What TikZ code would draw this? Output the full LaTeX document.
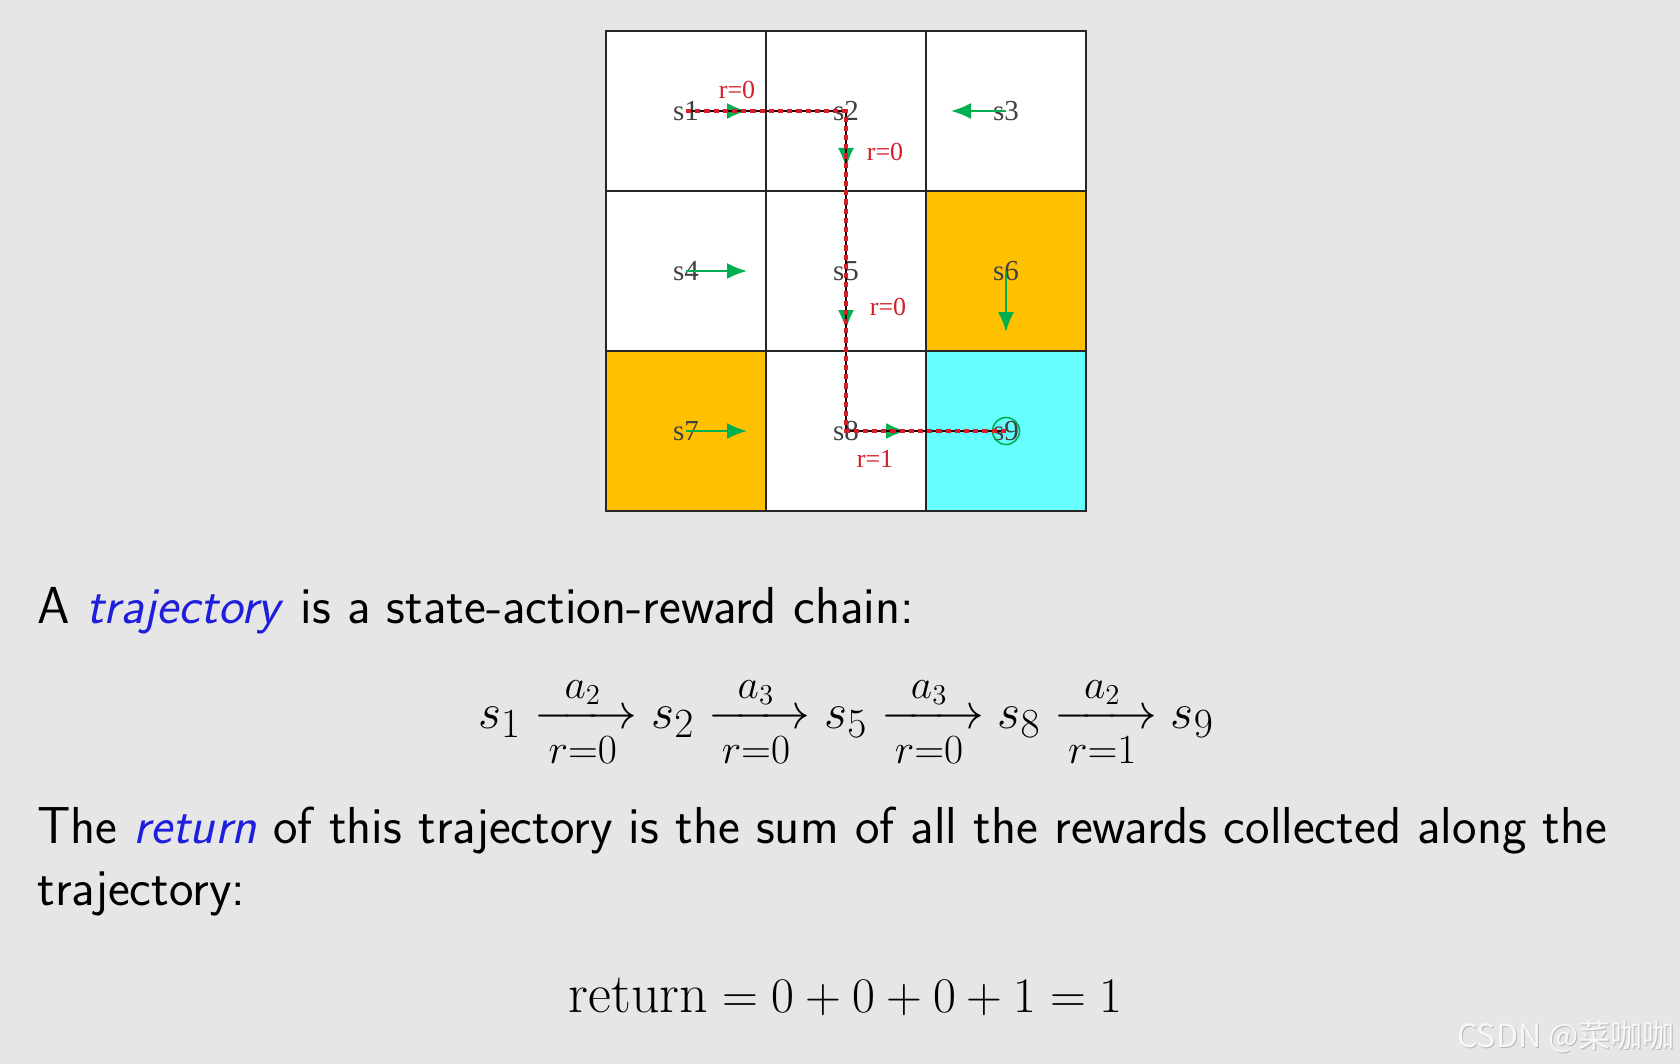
\documentclass[tikz,border=0pt]{standalone}
\usepackage{amsmath}
\usepackage{fontspec}
\newfontfamily\gridfont{Liberation Serif}
\newfontfamily\cjkfont{Noto Sans CJK SC}
\usetikzlibrary{arrows.meta}
\definecolor{bg}{HTML}{E6E6E6}
\definecolor{cellorange}{HTML}{FFC000}
\definecolor{cellcyan}{HTML}{66FFFF}
\definecolor{actgreen}{HTML}{00B050}
\definecolor{hlblue}{RGB}{30,30,220}
\definecolor{rewred}{RGB}{215,30,40}
\newcommand{\chainarrow}[2]{\xrightarrow[\hspace{0.5pt}#2\hspace{0.5pt}]{#1}}
\tikzset{
  statelbl/.style={inner sep=0pt, font=\gridfont\fontsize{14.5}{16}\selectfont, text=black!75},
  rewlbl/.style={inner sep=0pt, font=\gridfont\fontsize{13}{14}\selectfont, text=rewred},
  act/.style={draw=actgreen, line width=1.1pt, -{Latex[length=10pt,width=8pt]}},
  trajbase/.style={draw=black!85!red, line width=1.4pt},
  traj/.style={draw=rewred, line width=1.6pt, dash pattern=on 2.6pt off 2pt},
  gridline/.style={draw=black!85, line width=1pt},
  bodytext/.style={inner sep=0pt, anchor=base west, font=\sffamily\fontsize{26}{30}\selectfont},
  mathtext/.style={inner sep=0pt, anchor=base, font=\fontsize{28}{32}\selectfont},
}
\begin{document}
\begin{tikzpicture}[x=0.5pt,y=-0.5pt]
\fill[bg] (0,0) rectangle (1680,1064);
\useasboundingbox (0,0) rectangle (1680,1064);
% cells
\fill[white] (606,31) rectangle (1086,511);
\fill[cellorange] (926,191) rectangle (1086,351);
\fill[cellorange] (606,351) rectangle (766,511);
\fill[cellcyan] (926,351) rectangle (1086,511);
\draw[gridline] (766,31) -- (766,511);
\draw[gridline] (926,31) -- (926,511);
\draw[gridline] (606,191) -- (1086,191);
\draw[gridline] (606,351) -- (1086,351);
\draw[gridline] (606,31) rectangle (1086,511);
% states
\node[statelbl] (s1) at (686,111) {s1};
\node[statelbl] (s2) at (846,111) {s2};
\node[statelbl] (s3) at (1006,111) {s3};
\node[statelbl] (s4) at (686,271) {s4};
\node[statelbl] (s5) at (846,271) {s5};
\node[statelbl] (s6) at (1006,271) {s6};
\node[statelbl] (s7) at (686,431) {s7};
\node[statelbl] (s8) at (846,431) {s8};
\node[statelbl] (s9) at (1006,431) {s9};
\draw[actgreen, line width=0.8pt] (s9.center) circle[radius=13.5];
% action tips
\coordinate (a1) at (747,111);
\coordinate (a2) at (846,168);
\coordinate (a3) at (951,111);
\coordinate (a4) at (747,271);
\coordinate (a5) at (846,330);
\coordinate (a6) at (1006,332);
\coordinate (a7) at (747,431);
\coordinate (a8) at (906,431);
\draw[act] (s1.center) -- (a1);
\draw[act] (s2.center) -- (a2);
\draw[act] (s3.center) -- (a3);
\draw[act] (s4.center) -- (a4);
\draw[act] (s5.center) -- (a5);
\draw[act] (s6.center) -- (a6);
\draw[act] (s7.center) -- (a7);
\draw[act] (s8.center) -- (a8);
% trajectory
\draw[trajbase] (s1.center) -- (s2.center) -- (s5.center) -- (s8.center) -- (s9.center);
\draw[traj] (s1.center) -- (s2.center) -- (s5.center) -- (s8.center) -- (s9.center);
\node[rewlbl] (r1) at (737,90) {r=0};
\node[rewlbl] (r2) at (885,152) {r=0};
\node[rewlbl] (r3) at (888,307) {r=0};
\node[rewlbl] (r4) at (875,459) {r=1};
% text
\node[bodytext] (t1) at (37,623) {A \textcolor{hlblue}{\textit{trajectory}} is a state-action-reward chain:};
\node[mathtext] (chain) at (846,728)
  {$s_1 \chainarrow{a_2}{r=0} s_2 \chainarrow{a_3}{r=0} s_5 \chainarrow{a_3}{r=0} s_8 \chainarrow{a_2}{r=1} s_9$};
\node[bodytext] (t2) at (37,843) {The \textcolor{hlblue}{\textit{return}} of this trajectory is the sum of all the rewards collected along the};
\node[bodytext] (t3) at (37,905) {trajectory:};
\node[mathtext] (ret) at (846,1012) {$\mathrm{return} = 0 + 0 + 0 + 1 = 1$};
% watermark
\node[inner sep=0pt, anchor=base east, font=\cjkfont\fontsize{16}{18}\selectfont, text=black!28] (wm0) at (1676,1048) {CSDN @菜咖咖};
\node[inner sep=0pt, anchor=base east, font=\cjkfont\fontsize{16}{18}\selectfont, text=white!97!black] (wm) at (1675,1047) {CSDN @菜咖咖};
\end{tikzpicture}
\end{document}
